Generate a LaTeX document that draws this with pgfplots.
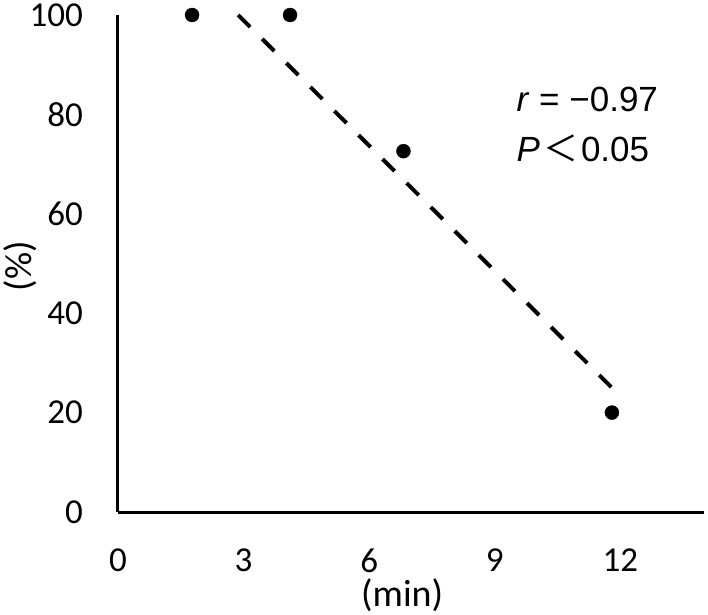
\documentclass[border=0pt]{standalone}
\usepackage{pgfplots}
\pgfplotsset{compat=1.18}
\usepackage{fontspec}
\setmainfont{Carlito}
\newfontfamily\arialf{Liberation Sans}
\newfontfamily\cjk{Noto Sans CJK JP}
\begin{document}
\begin{tikzpicture}
\begin{axis}[
  at={(0,0)}, anchor=south west,
  scale only axis, width=586bp, height=497bp,
  xmin=0, xmax=14, ymin=0, ymax=100,
  xtick={0,3,6,9,12}, ytick={0,20,40,60,80,100},
  axis x line=bottom, axis y line=left,
  axis line style={-, black},
  x axis line style={line width=3bp},
  y axis line style={line width=3bp},
  major tick length=0pt,
  clip=false,
  /pgf/number format/assume math mode=true,
  ticklabel style={font=\fontsize{35bp}{42bp}\selectfont, inner sep=0pt},
  yticklabel style={anchor=east, xshift=-35bp},
  xticklabel style={anchor=north, yshift=-37bp},
  xlabel={(min)}, ylabel={(\%)},
  label style={font=\fontsize{38bp}{46bp}\selectfont},
  xlabel style={at={(axis description cs:0.485,-0.168)}, anchor=center},
  ylabel style={at={(axis description cs:-0.167,0.495)}, anchor=center},
]
\addplot[black, line width=4bp, dash pattern=on 17bp off 17bp, no marks] coordinates {(2.87,100) (11.8,25)};
\addplot[only marks, mark=*, mark size=7bp, black] coordinates {(1.77,100) (4.11,100) (6.82,72.6) (11.8,20)};
\node[anchor=base west, inner sep=0pt, font=\fontsize{35bp}{42bp}\arialf] at (axis cs:9.52,80.5) {\textit{r} = −0.97};
\node[anchor=base west, inner sep=0pt, font=\fontsize{35bp}{42bp}\arialf] at (axis cs:9.52,70.6) {\textit{P}\hspace{3bp}{\cjk ＜}\hspace{3bp}0.05};
\end{axis}
\pgfresetboundingbox
\path (-118bp,-103bp) rectangle (590bp,512bp);
\end{tikzpicture}
\end{document}
